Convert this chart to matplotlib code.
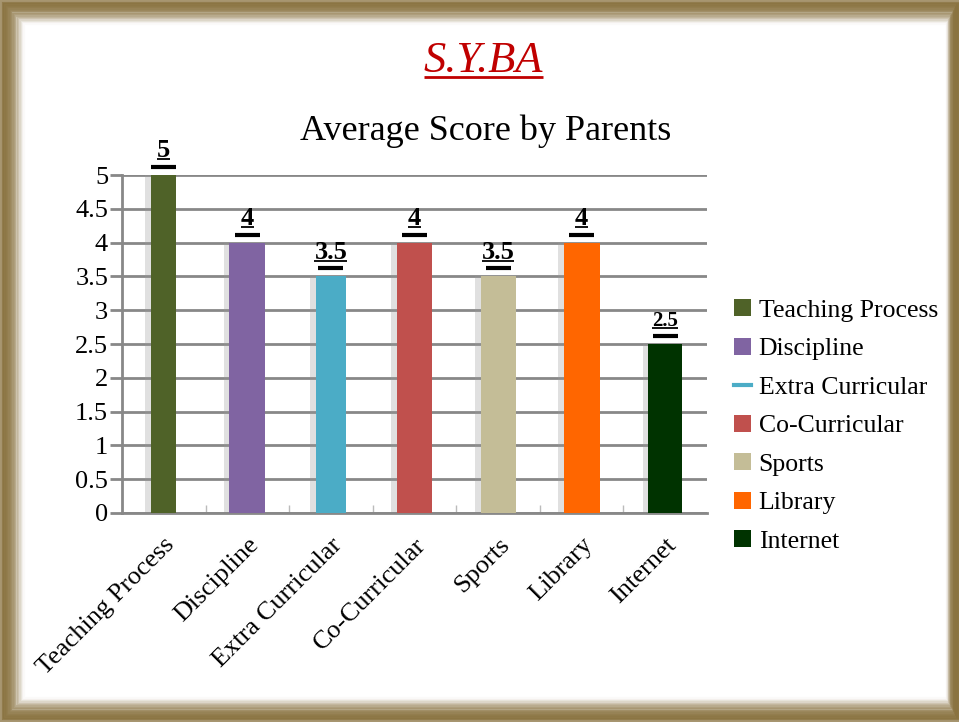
import matplotlib
matplotlib.use("Agg")
import matplotlib.pyplot as plt
from matplotlib.patches import Rectangle, Patch
from matplotlib.lines import Line2D

categories = ["Teaching Process", "Discipline", "Extra Curricular", "Co-Curricular",
              "Sports", "Library", "Internet"]
scores = [5, 4, 3.5, 4, 3.5, 4, 2.5]
score_labels = ["5", "4", "3.5", "4", "3.5", "4", "2.5"]
yticks = [0, 0.5, 1, 1.5, 2, 2.5, 3, 3.5, 4, 4.5, 5]
ytick_labels = ["0", "0.5", "1", "1.5", "2", "2.5", "3", "3.5", "4", "4.5", "5"]

colors = ["#4f6228", "#8064a2", "#4bacc6", "#c0504d", "#c4bd97", "#ff6600", "#003300"]
widths = [0.30, 0.43, 0.35, 0.43, 0.42, 0.43, 0.40]
label_sizes = [19, 19, 19, 19, 19, 19, 15]

plt.rcParams["font.family"] = ["Liberation Serif", "DejaVu Serif"]


def underline(fig, txt, color, lw, gap=2):
    # draw a line just below a text's bounding box
    fig.canvas.draw()
    bb = txt.get_window_extent()
    W, H = fig.bbox.width, fig.bbox.height
    y = (bb.y0 + gap) / H
    fig.add_artist(Line2D([bb.x0 / W, bb.x1 / W], [y, y], color=color, lw=lw,
                          transform=fig.transFigure, solid_capstyle="butt"))


fig = plt.figure(figsize=(9.59, 7.22), dpi=100)
fig.patch.set_facecolor("white")

# grungy frame, faked with nested fading rectangles
frame = "#8a7340"
for i in range(16):
    inset = 0.003 + i * 0.0019
    r = Rectangle((inset * 0.75, inset), 1 - 1.5 * inset * 0.75, 1 - 2 * inset,
                  transform=fig.transFigure, fill=False, edgecolor=frame,
                  linewidth=3, alpha=max(0.75 - i * 0.05, 0.03), zorder=0)
    fig.patches.append(r)

ax = fig.add_axes([0.1272, 0.2895, 0.61, 0.468])
x = list(range(len(categories)))

# light shadow on the left side of bars
for xi, v, w in zip(x, scores, widths):
    ax.bar(xi - 0.07, v, width=w, color="#9a9a9a", alpha=0.3, zorder=2, linewidth=0)
ax.bar(x, scores, width=widths, color=colors, zorder=3, linewidth=0)

value_texts = []
for xi, v, lab, fs in zip(x, scores, score_labels, label_sizes):
    ax.plot([xi - 0.15, xi + 0.15], [v + 0.12, v + 0.12], color="black", lw=3,
            solid_capstyle="butt", zorder=4, clip_on=False)
    t = ax.text(xi, v + 0.19, lab, ha="center", va="bottom", fontsize=fs,
                fontweight="bold", color="black", zorder=5, clip_on=False)
    value_texts.append(t)

ax.set_xlim(-0.5, len(categories) - 0.5)
ax.set_ylim(0, 5)
ax.set_yticks(yticks)
ax.set_yticklabels(ytick_labels, fontsize=19)
ax.yaxis.grid(True, color="#888888", linewidth=2, zorder=1)
ax.set_axisbelow(True)
ax.tick_params(axis="y", length=9, width=2, color="#888888", direction="out", pad=1)

ax.set_xticks(x)
ax.set_xticklabels(categories, fontsize=19, rotation=45, ha="right",
                   rotation_mode="anchor")
ax.tick_params(axis="x", length=0, pad=15)
ax.set_xticks([i + 0.5 for i in x[:-1]], minor=True)
ax.tick_params(axis="x", which="minor", length=6, width=1, color="#bbbbbb", direction="in")

for s in ["top", "right"]:
    ax.spines[s].set_visible(False)
for s in ["left", "bottom"]:
    ax.spines[s].set_color("#888888")
    ax.spines[s].set_linewidth(2)
ax.set_facecolor("none")

title = fig.text(0.504, 0.916, "S.Y.BA", ha="center", va="center",
                 fontsize=32, style="italic", color="#c00000")
fig.text(0.506, 0.818, "Average Score by Parents", ha="center", va="center",
         fontsize=26, color="black")

handles = []
for name, c in zip(categories, colors):
    if name == "Extra Curricular":
        handles.append(Line2D([0], [0], color=c, lw=3, marker=None))
    else:
        handles.append(Patch(facecolor=c, edgecolor="none"))
leg = fig.legend(handles, categories, loc="center left", bbox_to_anchor=(0.755, 0.41),
                 frameon=False, fontsize=18.5, handlelength=0.65, handleheight=0.65,
                 handletextpad=0.3, labelspacing=0.62, borderaxespad=0)

underline(fig, title, "#c00000", 2, gap=4)
for t in value_texts:
    underline(fig, t, "black", 1.3, gap=3)

fig.savefig("out.png", dpi=100)
